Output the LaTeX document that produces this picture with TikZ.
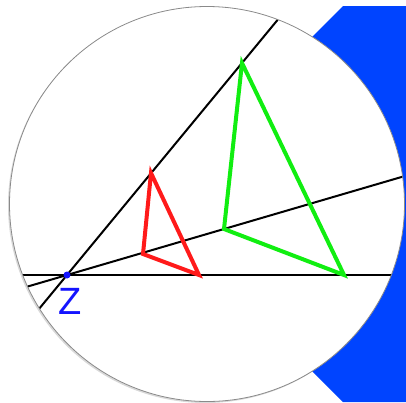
\documentclass[tikz,border=0pt]{standalone}
\usepackage{fontspec}
\setsansfont{Liberation Sans}
\usetikzlibrary{calc,positioning,shadows}
\definecolor{panelblue}{HTML}{0044FF}
\definecolor{centreblue}{HTML}{1414FF}
\definecolor{smallred}{HTML}{FF1A1A}
\definecolor{biggreen}{HTML}{11EE11}
\definecolor{rimgrey}{HTML}{8A8A8A}

\begin{document}
\begin{tikzpicture}[
  x=1pt, y=-1pt,
  panel/.style={fill=panelblue, draw=none},
  lens/.style={fill=white, draw=rimgrey, line width=0.8pt, drop shadow={shadow xshift=-1.5pt, shadow yshift=-1.5pt, opacity=0.3}},
  ray/.style={draw=black, line width=2pt},
  smalltri/.style={draw=smallred, line width=4pt, line join=miter, line cap=square},
  bigtri/.style={draw=biggreen, line width=4pt, line join=miter, line cap=square},
  centre/.style={circle, fill=centreblue, inner sep=0pt, minimum size=7pt},
  centrelabel/.style={text=centreblue, font=\sffamily\fontsize{38}{44}\selectfont, inner sep=1pt}
]
\useasboundingbox (0,0) rectangle (406,402);

\fill[panel] (343,6) -- (406,6) -- (406,402) -- (343,402) -- (300,359) -- (300,49) -- cycle;

\coordinate (O) at (207,204);
\path[lens] (O) circle[radius=197.5pt];

\coordinate (Zc) at (67,275);
\coordinate (r1) at (151,173);
\coordinate (r2) at (143,254);
\coordinate (r3) at (199,275);
\coordinate (g1) at (242,63);
\coordinate (g2) at (224,229);
\coordinate (g3) at (344,275);

\begin{scope}
  \clip (O) circle[radius=197pt];
  \draw[ray] ($(Zc)!-0.5!(g1)$) -- ($(Zc)!1.5!(g1)$);
  \draw[ray] ($(Zc)!-0.5!(g2)$) -- ($(Zc)!2.5!(g2)$);
  \draw[ray] ($(Zc)!-0.5!(g3)$) -- ($(Zc)!1.5!(g3)$);
\end{scope}

\draw[smalltri] (r1) -- (r2) -- (r3) -- cycle;
\draw[bigtri] (g1) -- (g2) -- (g3) -- cycle;

\node[centre] (Z) at (Zc) {};
\node[centrelabel, below=8pt of Z, xshift=3pt] (Zlabel) {Z};

\end{tikzpicture}
\end{document}
